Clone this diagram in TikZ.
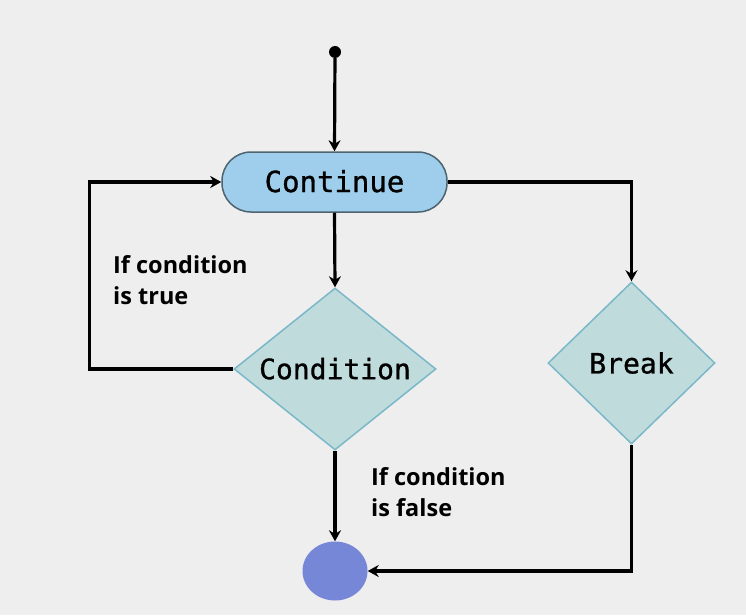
\documentclass[tikz,border=0pt]{standalone}
\usepackage{fontspec}
\usetikzlibrary{arrows.meta,shapes.geometric}
\newfontfamily\monof[FakeBold=1]{DejaVu Sans Mono}
\newfontfamily\labf{Open Sans}
\definecolor{bgc}{HTML}{EEEEEE}
\definecolor{contfill}{HTML}{9ECEEB}
\definecolor{contline}{HTML}{4D6470}
\definecolor{diafill}{HTML}{BFDBDB}
\definecolor{dialine}{HTML}{7AB8C9}
\definecolor{endfill}{HTML}{7587D6}
\begin{document}
\begin{tikzpicture}[x=1pt,y=-1pt,
  arr/.style={line width=3.2pt,-{Stealth[length=11pt,width=12pt]}},
  contbox/.style={draw=contline,line width=1.5pt,fill=contfill,rounded corners=29pt,
    minimum width=225pt,minimum height=60pt,inner sep=0pt,font=\monof\fontsize{29}{34}\selectfont},
  dia/.style={diamond,draw=dialine,line width=1.5pt,fill=diafill,inner sep=0pt,
    font=\monof\fontsize{28}{34}\selectfont},
  lbl/.style={anchor=north west,inner sep=0pt,align=left,
    font=\labf\bfseries\fontsize{23.5}{31}\selectfont}]
\fill[bgc] (0,0) rectangle (746,615);
\useasboundingbox (0,0) rectangle (746,615);

\node[circle,fill=black,minimum size=12pt,inner sep=0pt] (start) at (335,52) {};
\node[contbox] (cont) at (334.5,182) {\raisebox{2pt}{Continue}};
\node[dia,aspect=1.25,minimum width=202pt,minimum height=162pt] (cond) at (335,369) {\raisebox{1pt}{Condition}};
\node[dia,minimum width=167pt,minimum height=162pt] (brk) at (631.5,363) {Break};
\node[ellipse,fill=endfill,minimum width=65pt,minimum height=59pt,inner sep=0pt] (end) at (335,571) {};

\node[lbl] (ltrue) at (113,255) {If condition\\is true};
\node[lbl] (lfalse) at (371,467) {If condition\\is false};

\draw[arr] (start) -- (cont.north);
\draw[arr] (cont.south) -- (cond.north);
\draw[arr] (cont.east) -| (brk.north);
\draw[arr] (cond.west) -- ++(-144,0) |- (cont.west);
\draw[arr] (cond.south) -- (end.north);
\draw[arr] (brk.south) |- (end.east);
\end{tikzpicture}
\end{document}
